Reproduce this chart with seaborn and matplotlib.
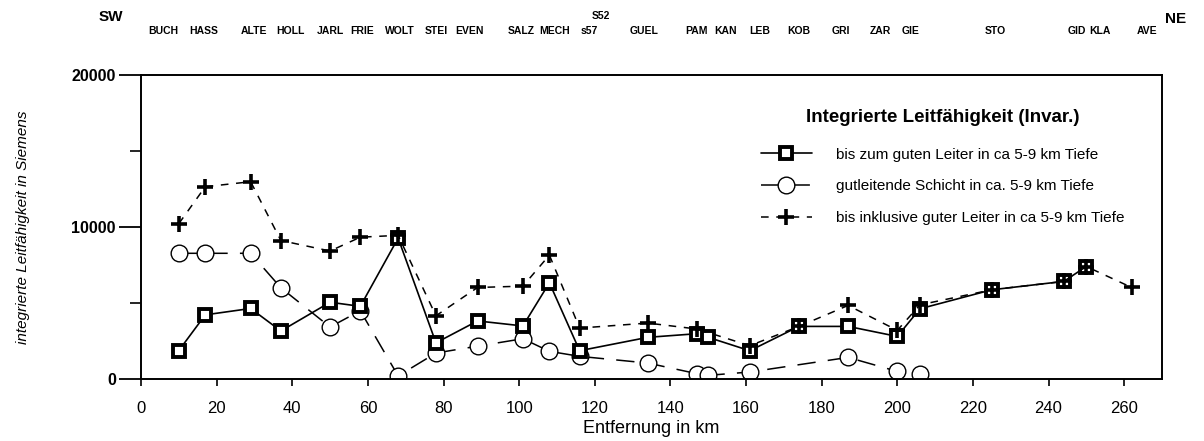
import matplotlib
matplotlib.use("Agg")
import matplotlib.pyplot as plt
import matplotlib.transforms as mtransforms
from matplotlib.ticker import MultipleLocator
import seaborn as sns
import pandas as pd

# --- data -------------------------------------------------------------
# conductance down to the good conductor (squares, solid line)
km_leiter = [10, 17, 29, 37, 50, 58, 68, 78, 89, 101, 108, 116, 134, 147, 150,
             161, 174, 187, 200, 206, 225, 244, 250]
s_leiter = [1870, 4220, 4640, 3160, 5050, 4780, 9270, 2380, 3820, 3490, 6330,
            1860, 2740, 2980, 2740, 1860, 3460, 3460, 2800, 4620, 5870, 6420, 7400]

# conductance of the conductive layer itself (circles, long dashes)
km_schicht = [10, 17, 29, 37, 50, 58, 68, 78, 89, 101, 108, 116, 134, 147, 150,
              161, 187, 200, 206]
s_schicht = [8270, 8270, 8270, 6000, 3420, 4490, 200, 1710, 2160, 2650, 1820,
             1490, 1050, 350, 240, 460, 1420, 500, 330]

# conductance including the good conductor (plus signs, dashed line)
km_inkl = [10, 17, 29, 37, 50, 58, 68, 78, 89, 101, 108, 116, 134, 147, 161,
           174, 187, 200, 206, 225, 244, 250, 262]
s_inkl = [10220, 12650, 12980, 9110, 8420, 9330, 9450, 4160, 6020, 6110, 8150,
          3350, 3680, 3290, 2190, 3460, 4840, 3200, 4880, 5870, 6420, 7400, 6020]

labels = [
    "bis zum guten Leiter in ca 5-9 km Tiefe",
    "gutleitende Schicht in ca. 5-9 km Tiefe",
    "bis inklusive guter Leiter in ca 5-9 km Tiefe",
]
legend_title = "Integrierte Leitfähigkeit (Invar.)"

# station names along the profile and where their labels sit (km)
stations = ["BUCH", "HASS", "ALTE", "HOLL", "JARL", "FRIE", "WOLT", "STEI",
            "EVEN", "SALZ", "MECH", "s57", "GUEL", "PAM", "KAN", "LEB", "KOB",
            "GRI", "ZAR", "GIE", "STO", "GID", "KLA", "AVE"]
station_km = [5.8, 16.5, 30.0, 39.5, 50.0, 58.5, 68.5, 78.0, 87.0, 100.5,
              109.5, 118.5, 133.0, 147.0, 154.5, 163.5, 174.0, 185.0, 195.5,
              203.5, 226.0, 247.5, 253.5, 266.0]

x_ticks = list(range(0, 261, 20))
y_ticks = [0, 10000, 20000]

# --- figure -----------------------------------------------------------
sns.set_theme(style="ticks")
plt.rcParams["font.family"] = ["Liberation Sans", "DejaVu Sans"]
plt.rcParams.update({"text.color": "black", "axes.labelcolor": "black",
                     "xtick.color": "black", "ytick.color": "black",
                     "axes.edgecolor": "black"})

fig = plt.figure(figsize=(12.04, 4.41), dpi=100)
ax = fig.add_axes([0.1171, 0.1406, 0.848, 0.6893])

df_l = pd.DataFrame({"km": km_leiter, "S": s_leiter})
df_s = pd.DataFrame({"km": km_schicht, "S": s_schicht})
df_i = pd.DataFrame({"km": km_inkl, "S": s_inkl})

sns.lineplot(data=df_s, x="km", y="S", ax=ax, sort=False, color="black",
             linewidth=1.1, linestyle=(0, (12, 8)), marker="o", markersize=12,
             markerfacecolor="white", markeredgecolor="black",
             markeredgewidth=1.0, label=labels[1], zorder=2)
sns.lineplot(data=df_l, x="km", y="S", ax=ax, sort=False, color="black",
             linewidth=1.2, linestyle="-", marker="s", markersize=8.5,
             markerfacecolor="white", markeredgecolor="black",
             markeredgewidth=2.8, label=labels[0], zorder=3)
sns.lineplot(data=df_i, x="km", y="S", ax=ax, sort=False, color="black",
             linewidth=1.1, linestyle=(0, (5, 5)), marker="+", markersize=11,
             markeredgecolor="black", markeredgewidth=2.6,
             label=labels[2], zorder=4)

ax.set_xlim(0, 270)
ax.set_ylim(0, 20000)
ax.set_xticks(x_ticks)
ax.set_yticks(y_ticks)
ax.set_yticklabels([str(v) for v in y_ticks])
ax.yaxis.set_minor_locator(MultipleLocator(5000))
ax.tick_params(axis="y", which="major", length=16, width=1.3, direction="out",
               labelsize=11.5, pad=2)
ax.tick_params(axis="y", which="minor", length=8, width=1.2, direction="out")
ax.tick_params(axis="x", which="major", length=5, width=1.2, direction="out",
               labelsize=12, pad=11)
for t in ax.get_yticklabels():
    t.set_fontweight("bold")
for sp in ax.spines.values():
    sp.set_visible(True)
    sp.set_linewidth(1.4)
    sp.set_color("black")

ax.set_xlabel("Entfernung in km", fontsize=13, labelpad=3)
ax.set_ylabel("integrierte Leitfähigkeit in Siemens", fontsize=11,
              style="italic", labelpad=30)

# legend: frameless, upper right
handles, lbls = ax.get_legend_handles_labels()
order = [lbls.index(l) for l in labels]
leg = ax.legend([handles[i] for i in order], [lbls[i] for i in order],
                title=legend_title, loc="upper left",
                bbox_to_anchor=(0.597, 0.925), frameon=False, fontsize=11,
                handlelength=3.3, handletextpad=1.6, labelspacing=1.15,
                borderpad=0.2)
leg.get_title().set_fontsize(13.5)
leg.get_title().set_fontweight("bold")
leg._legend_box.sep = 16

# station names above the frame
trans = mtransforms.blended_transform_factory(ax.transData, fig.transFigure)
for name, k in zip(stations, station_km):
    ax.text(k, 1 - 31 / 441, name, transform=trans, ha="center", va="center",
            fontsize=7.5, fontweight="bold", clip_on=False)
ax.text(121.5, 1 - 16 / 441, "S52", transform=trans, ha="center",
        va="center", fontsize=7.5, fontweight="bold", clip_on=False)
ax.text(-8, 1 - 17 / 441, "SW", transform=trans, ha="center", va="center",
        fontsize=11, fontweight="bold", clip_on=False)
ax.text(273.5, 1 - 19 / 441, "NE", transform=trans, ha="center", va="center",
        fontsize=11, fontweight="bold", clip_on=False)

fig.savefig("out.png", dpi=100, facecolor="white")
